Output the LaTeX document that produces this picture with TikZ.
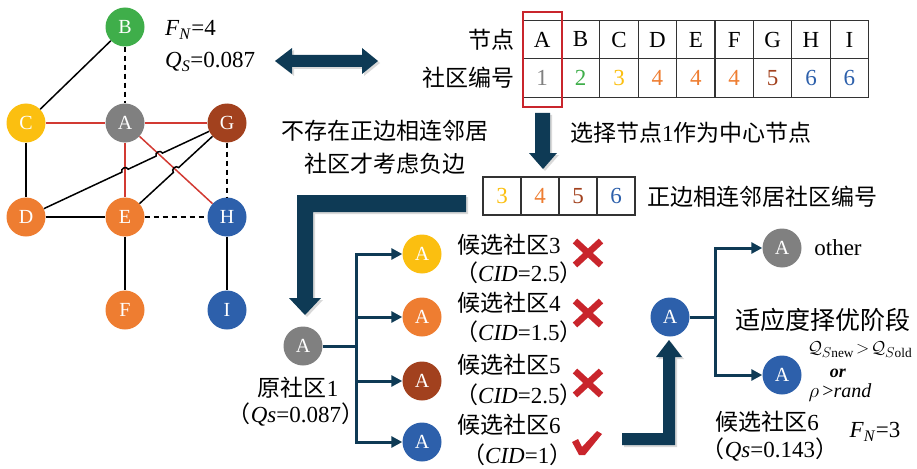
\documentclass[tikz,border=0pt]{standalone}
\usepackage{fontspec}
\setmainfont{Liberation Serif}
\newfontfamily\cjk{Noto Sans CJK SC}
\usetikzlibrary{arrows.meta,calc,shadows}
\definecolor{navy}{HTML}{0E3A55}
\definecolor{cA}{HTML}{808080}
\definecolor{cB}{HTML}{3FAE4A}
\definecolor{cC}{HTML}{FBBF10}
\definecolor{cD}{HTML}{EE7D31}
\definecolor{cG}{HTML}{A2411E}
\definecolor{cH}{HTML}{2D60AB}
\definecolor{redE}{HTML}{D23A33}
\definecolor{mred}{HTML}{C9252C}
\tikzset{
  gn/.style={circle,minimum size=39,inner sep=0,text=white,font=\fontsize{20}{20}\selectfont},
  txt/.style={inner sep=0,font=\fontsize{23}{27}\selectfont},
  cell/.style={draw=black!80,line width=1.2,minimum width=38.4,minimum height=38.5,inner sep=0,font=\fontsize{23}{23}\selectfont},
  edge/.style={line width=1.5},
  redge/.style={line width=1.5,draw=redE},
  dedge/.style={line width=1.5,dash pattern=on 5pt off 4pt},
  fat/.style={fill=navy,draw=none,drop shadow={shadow xshift=2pt,shadow yshift=-2pt,opacity=0.3}},
  tl/.style={draw=navy,line width=3},
  tla/.style={tl,-{Triangle[length=11pt,width=11pt]}},
  xm/.style={draw=mred,line width=6.5}
}
\begin{document}
\begin{tikzpicture}[x=1pt,y=-1pt]
\useasboundingbox (0,0) rectangle (917,468);
% ---------- graph ----------
\node[gn,fill=cB] (B) at (125,27) {B};
\node[gn,fill=cC] (C) at (26,123) {C};
\node[gn,fill=cA] (A) at (125,123) {A};
\node[gn,fill=cG] (G) at (227,123) {G};
\node[gn,fill=cD] (D) at (26,217) {D};
\node[gn,fill=cD] (E) at (125,217) {E};
\node[gn,fill=cH] (H) at (227,217) {H};
\node[gn,fill=cD] (F) at (125,310) {F};
\node[gn,fill=cH] (I) at (227,310) {I};
\draw[edge] (B) -- (C);
\draw[dedge] (B) -- (A);
\draw[redge] (C) -- (A);
\draw[redge] (A) -- (G);
\draw[edge] (C) -- (D);
\draw[redge] (A) -- (E);
\draw[redge] (A) -- (H);
\draw[edge] (D) -- (E);
\draw[dedge] (E) -- (H);
\draw[dedge] (G) -- (H);
\draw[edge] (E) -- (F);
\draw[edge] (H) -- (I);
\draw[edge] (D) -- (121.8,172.2) .. controls (120.1,168.6) and (126.5,165.6) .. (128.2,169.2)
  -- (156.1,156.1) .. controls (154.4,152.5) and (160.8,149.5) .. (162.5,153.1) -- (G);
\draw[edge] (E) -- (173.4,172.4) .. controls (170.7,169.5) and (175.9,164.7) .. (178.6,167.6) -- (G);
\node[txt,anchor=west] (fn4) at (165,30) {\textit{F}\textsubscript{\textit{N}}=4};
\node[txt,anchor=west] (qs4) at (165,62) {\textit{Q}\textsubscript{\textit{S}}=0.087};
% ---------- double arrow ----------
\path[fat] (275,61) -- (292,48) -- (292,55) -- (362,55) -- (362,48) -- (378,61) -- (362,74) -- (362,67) -- (292,67) -- (292,74) -- cycle;
% ---------- table ----------
\foreach \l/\n/\c [count=\i from 0] in {A/1/cA,B/2/cB,C/3/cC,D/4/cD,E/4/cD,F/4/cD,G/5/cG,H/6/cH,I/6/cH}{
  \node[cell] (t\l) at ({542.2+38.4*\i},39.5) {\l};
  \node[cell,text=\c] (n\l) at ({542.2+38.4*\i},78) {\n};
}
\node[draw=mred,line width=2,minimum width=39,minimum height=95,inner sep=0] (sel) at (542.5,59.5) {};
\node[txt,anchor=east] (lbl1) at (515,40) {\cjk 节点};
\node[txt,anchor=east] (lbl2) at (515,78) {\cjk 社区编号};
% ---------- down arrow ----------
\path[fat] (535,113) -- (550,113) -- (550,153) -- (557,153) -- (543,169) -- (529,153) -- (535,153) -- cycle;
\node[txt,anchor=west] (sel1) at (570,133) {{\cjk 选择节点}1{\cjk 作为中心节点}};
\node[txt,align=center,font=\fontsize{23}{33}\selectfont] (neg) at (385,147) {\cjk 不存在正边相连邻居\\\cjk 社区才考虑负边};
% ---------- second table ----------
\foreach \n/\c [count=\i from 0] in {3/cC,4/cD,5/cG,6/cH}{
  \node[cell,minimum width=38,minimum height=38,text=\c] (p\n) at ({502+38*\i},196) {\n};
}
\node[txt,anchor=west] (posl) at (647,197) {\cjk 正边相连邻居社区编号};
% ---------- big L arrow ----------
\path[fat] (466,195) -- (466,212) -- (313,212) -- (313,298) -- (321,298) -- (305,315) -- (289,298) -- (297,298) -- (297,195) -- cycle;
% ---------- candidate tree ----------
\node[gn,fill=cA] (oA) at (303,346) {A};
\node[txt] (o1) at (298,388) {{\cjk 原社区}1};
\node[txt] (o2) at (296,415) {{\cjk （}\textit{Qs}=0.087{\cjk ）}};
\node[gn,fill=cC] (c3) at (422,254) {A};
\node[gn,fill=cD] (c4) at (422,317) {A};
\node[gn,fill=cG] (c5) at (422,381) {A};
\node[gn,fill=cH] (c6) at (422,442) {A};
\coordinate (j0) at (356,346);
\coordinate (j3) at (356,254);
\coordinate (j4) at (356,317);
\coordinate (j5) at (356,381);
\coordinate (j6) at (356,442);
\draw[tl] (oA) -- (j0);
\draw[tl,line cap=rect] (j3) -- (j6);
\draw[tla] (j3) -- (c3);
\draw[tla] (j4) -- (c4);
\draw[tla] (j5) -- (c5);
\draw[tla] (j6) -- (c6);
\node[txt,anchor=west] (l3a) at (457,245) {{\cjk 候选社区}3};
\node[txt,anchor=west] (l3b) at (455,273) {{\cjk （}\textit{CID}=2.5{\cjk ）}};
\node[txt,anchor=west] (l4a) at (457,303) {{\cjk 候选社区}4};
\node[txt,anchor=west] (l4b) at (455,332) {{\cjk （}\textit{CID}=1.5{\cjk ）}};
\node[txt,anchor=west] (l5a) at (457,365) {{\cjk 候选社区}5};
\node[txt,anchor=west] (l5b) at (455,395) {{\cjk （}\textit{CID}=2.5{\cjk ）}};
\node[txt,anchor=west] (l6a) at (457,425) {{\cjk 候选社区}6};
\node[txt,anchor=west] (l6b) at (462,455) {{\cjk （}\textit{CID}=1{\cjk ）}};
% crosses
\foreach \y in {253,313,383}{
  \draw[xm] (575,\y-12) -- (601,\y+12);
  \draw[xm] (601,\y-12) -- (575,\y+12);
}
% check
\fill[mred] (572,442) -- (578,439) -- (582,447) -- (597,431) -- (602,434) -- (585,455) -- (579,455) -- cycle;
% ---------- bottom-right L arrow ----------
\path[fat] (622,433) -- (663,433) -- (663,357) -- (656,357) -- (669,340) -- (682,357) -- (675,357) -- (675,445) -- (622,445) -- cycle;
% ---------- fitness tree ----------
\node[gn,fill=cH] (rA) at (670,317) {A};
\node[gn,fill=cA] (rO) at (782,248) {A};
\node[gn,fill=cH] (rN) at (782,375) {A};
\coordinate (k0) at (715,317);
\coordinate (kO) at (715,248);
\coordinate (kN) at (715,375);
\draw[tl] (rA) -- (k0);
\draw[tl,line cap=rect] (kO) -- (kN);
\draw[tla] (kO) -- (rO);
\draw[tla] (kN) -- (rN);
\node[txt] (oth) at (838,248) {other};
\node[txt,font=\fontsize{25}{25}\selectfont] (fit) at (823,320) {\cjk 适应度择优阶段};
\node[inner sep=0,font=\fontsize{19}{19}\selectfont] (qf) at (860,350) {$\mathcal{Q}_{S\mathrm{new}}\!>\!\mathcal{Q}_{S\mathrm{old}}$};
\node[inner sep=0,font=\fontsize{18}{18}\selectfont] (or) at (838,373) {\textbf{\textit{or}}};
\node[inner sep=0,font=\fontsize{20}{20}\selectfont] (rho) at (840,393) {$\rho$\,>\textit{rand}};
\node[txt] (r6a) at (767,422) {{\cjk 候选社区}6};
\node[txt] (r6b) at (770,450) {{\cjk （}\textit{Qs}=0.143{\cjk ）}};
\node[txt] (fn3) at (875,432) {\textit{F}\textsubscript{\textit{N}}=3};
\end{tikzpicture}
\end{document}
